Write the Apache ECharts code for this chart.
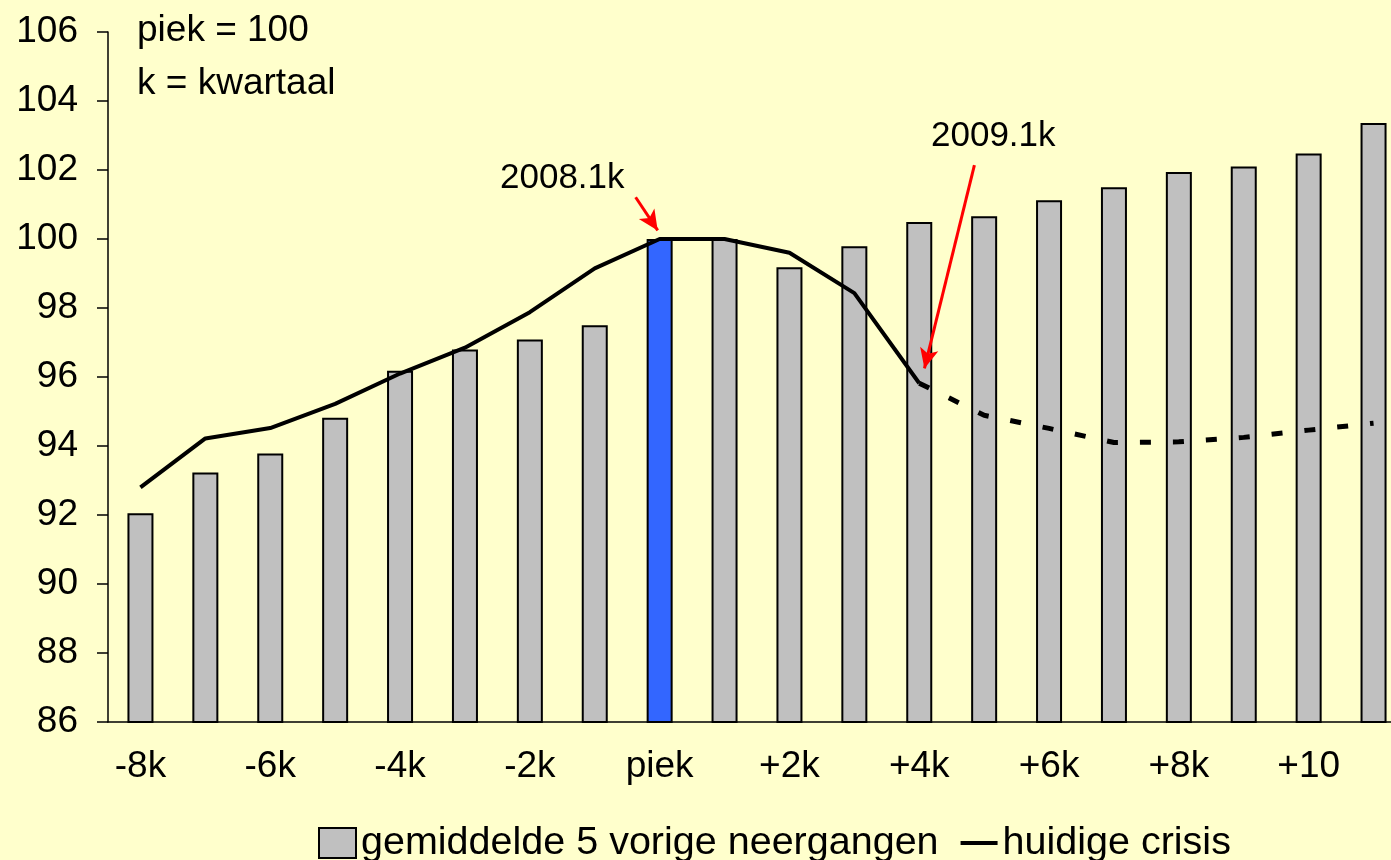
<!DOCTYPE html>
<html>
<head>
<meta charset="utf-8">
<script src="https://cdn.jsdelivr.net/npm/echarts@6/dist/echarts.min.js"></script>
<style>
  html, body { margin: 0; padding: 0; background: #ffffcc; overflow: hidden; }
  /* the original plot runs past the right edge, so the canvas is a bit wider than the window */
  #chart { width: 1406px; height: 860px; }
</style>
</head>
<body>
<div id="chart"></div>
<script>
// kwartalen rond de piek
const categories = ['-8k', '-7k', '-6k', '-5k', '-4k', '-3k', '-2k', '-1k', 'piek', '+1k',
  '+2k', '+3k', '+4k', '+5k', '+6k', '+7k', '+8k', '+9k', '+10', '+11']
// gemiddelde 5 vorige neergangen
const avgPrevious = [92.05, 93.23, 93.78, 94.82, 96.18, 96.8, 97.09, 97.5, 100, 100,
  99.18, 99.79, 100.49, 100.66, 101.12, 101.5, 101.94, 102.1, 102.48, 103.36]
// huidige crisis (gerealiseerd)
const currentCrisis = [92.8, 94.22, 94.52, 95.22, 96.1, 96.85, 97.88, 99.15, 100, 100,
  99.6, 98.43, 95.82, null, null, null, null, null, null, null]
// huidige crisis (raming, stippellijn)
const currentForecast = [null, null, null, null, null, null, null, null, null, null,
  null, null, 95.82, 94.89, 94.51, 94.1, 94.12, 94.25, 94.46, 94.66]
const peakIndex = 8
const yTicks = { min: 86, max: 106, step: 2 }

// pijlen bij de annotaties: [van, naar] in (kwartaal-index, waarde)
const arrows = [
  [[7.63, 101.21], [7.97, 100.25]],
  [[12.85, 102.14], [12.08, 96.25]]
]

const font = 'Liberation Sans, Arial, sans-serif'
const chart = echarts.init(document.getElementById('chart'))

const barData = avgPrevious.map((v, i) => i === peakIndex
  ? { value: v, itemStyle: { color: '#3366ff' } }
  : v)

const option = {
  backgroundColor: '#ffffcc',
  animation: false,
  textStyle: { fontFamily: font, color: '#000' },
  grid: { left: 108, top: 32, right: 0, height: 690 },
  xAxis: [
    {
      type: 'category',
      data: categories,
      axisLine: { lineStyle: { color: '#000', width: 1.5 } },
      axisTick: { interval: 0, length: 12, lineStyle: { color: '#000', width: 1.5 } },
      axisLabel: { interval: 1, fontSize: 37, color: '#000', margin: 26, fontFamily: font }
    },
    { type: 'value', min: -0.5, max: 19.5, show: false }
  ],
  yAxis: {
    type: 'value',
    min: yTicks.min,
    max: yTicks.max,
    interval: yTicks.step,
    splitLine: { show: false },
    axisLine: { show: true, onZero: false, lineStyle: { color: '#000', width: 1.5 } },
    axisTick: { show: true, length: 11, lineStyle: { color: '#000', width: 1.5 } },
    axisLabel: { fontSize: 37, color: '#000', margin: 30, fontFamily: font }
  },
  legend: {
    left: 313,
    top: 818,
    itemWidth: 37,
    itemHeight: 30,
    itemGap: 22,
    textStyle: { fontSize: 39.5, color: '#000', fontFamily: font },
    data: [
      { name: 'gemiddelde 5 vorige neergangen', icon: 'rect' },
      { name: 'huidige crisis', icon: 'path://M0,0 L37,0 L37,4 L0,4 Z' }
    ]
  },
  series: [
    {
      name: 'gemiddelde 5 vorige neergangen',
      type: 'bar',
      data: barData,
      barWidth: 26,
      itemStyle: { color: '#c0c0c0', borderColor: '#000', borderWidth: 2 }
    },
    {
      name: 'huidige crisis',
      type: 'line',
      data: currentCrisis,
      symbol: 'none',
      lineStyle: { color: '#000', width: 4 },
      itemStyle: { color: '#000' }
    },
    {
      name: 'raming',
      type: 'line',
      data: currentForecast,
      symbol: 'none',
      lineStyle: { color: '#000', width: 5, type: [11, 22] }
    },
    {
      name: 'pijlen',
      type: 'line',
      xAxisIndex: 1,
      data: [],
      markLine: {
        silent: true,
        symbol: ['none', 'arrow'],
        symbolSize: [14, 20],
        label: { show: false },
        lineStyle: { color: '#ff0000', width: 3, type: 'solid' },
        data: arrows.map(a => [{ coord: a[0] }, { coord: a[1] }])
      }
    }
  ],
  graphic: [
    { type: 'text', left: 137, top: 12, style: { text: 'piek = 100', font: '37px ' + font, fill: '#000' } },
    { type: 'text', left: 137, top: 65, style: { text: 'k = kwartaal', font: '37px ' + font, fill: '#000' } },
    { type: 'text', left: 500, top: 161, style: { text: '2008.1k', font: '35px ' + font, fill: '#000' } },
    { type: 'text', left: 931, top: 119, style: { text: '2009.1k', font: '35px ' + font, fill: '#000' } }
  ]
}

chart.setOption(option)
</script>
</body>
</html>
